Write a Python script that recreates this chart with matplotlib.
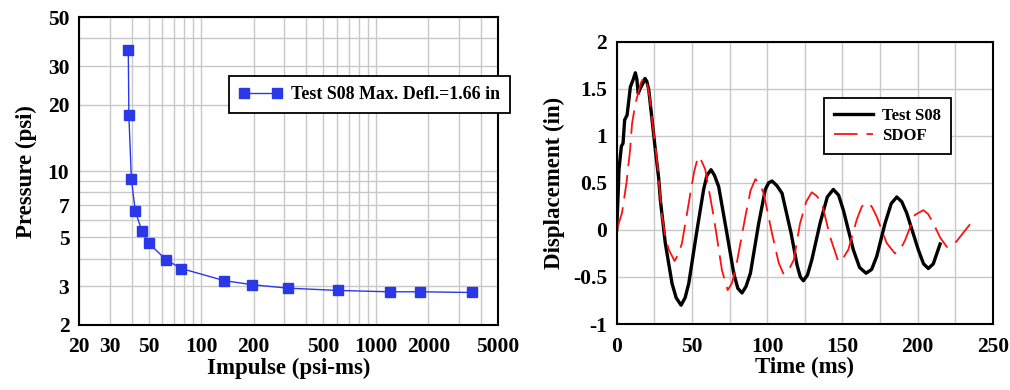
import matplotlib
matplotlib.use("Agg")
import matplotlib.pyplot as plt
from matplotlib.ticker import FixedLocator, FixedFormatter, NullLocator

# ---------------- data ----------------
impulse = [38.3, 38.6, 39.9, 42.0, 45.7, 50.3, 63.2, 77.0, 135.8, 194.6, 312.8, 607, 1200, 1789, 3550]
pressure = [35.6, 17.9, 9.2, 6.59, 5.37, 4.69, 3.95, 3.61, 3.18, 3.05, 2.94, 2.87, 2.83, 2.83, 2.81]

test_t = [0.0, 1.0, 1.5, 3.1, 4.2, 5.3, 6.9, 9.1, 11.0, 12.4, 13.4, 14.3, 15.5, 17.2, 18.8, 20.0,
          21.3, 23.5, 25.7, 27.9, 29.0, 32.3, 36.8, 39.5, 42.8, 45.5, 47.9, 50.5, 53.4, 57.8,
          60.0, 62.7, 65.0, 67.8, 73.3, 77.8, 80.5, 83.3, 86.0, 88.9, 94.4, 98.8, 101.0, 103.3,
          106.5, 109.9, 116.0, 120.0, 122.1, 124.1, 126.8, 129.7, 135.2, 140.0, 144.0, 147.5,
          150.7, 157.3, 161.5, 165.8, 169.5, 172.9, 178.4, 182.5, 186.2, 189.5, 192.8, 200.5,
          204.0, 207.2, 210.5, 215.0]
test_d = [0.00, 0.40, 0.64, 0.89, 0.92, 1.17, 1.22, 1.52, 1.60, 1.67, 1.60, 1.45, 1.50, 1.55, 1.61, 1.58,
          1.49, 1.17, 0.85, 0.55, 0.32, -0.14, -0.57, -0.72, -0.80, -0.72, -0.57, -0.30, 0.00, 0.43,
          0.58, 0.64, 0.58, 0.46, -0.04, -0.46, -0.62, -0.67, -0.60, -0.46, 0.07, 0.43, 0.50, 0.52,
          0.47, 0.39, -0.04, -0.38, -0.50, -0.54, -0.48, -0.32, 0.07, 0.35, 0.43, 0.37,
          0.21, -0.21, -0.40, -0.46, -0.42, -0.28, 0.07, 0.28, 0.35, 0.30, 0.18, -0.21,
          -0.36, -0.41, -0.36, -0.15]

sdof_t = [0.0, 3.5, 6.5, 8.9, 10.2, 12.3, 14.2, 16.0, 17.9, 20.2, 22.0, 23.5, 26.8, 30.1, 32.5, 34.6,
          38.5, 41.0, 43.4, 49.0, 51.5, 54.1, 56.5, 58.9, 64.5, 70.0, 73.8, 76.5, 78.9, 85.5, 89.0,
          92.2, 95.0, 97.7, 103.3, 107.7, 111.0, 114.5, 117.7, 121.9, 126.0, 129.7, 133.0, 136.3,
          141.8, 147.4, 150.5, 154.0, 159.6, 163.0, 166.6, 169.5, 172.9, 179.5, 185.0, 188.5,
          191.7, 198.3, 203.9, 207.0, 210.5, 215.0, 219.4, 222.5, 226.0, 234.9]
sdof_d = [0.00, 0.18, 0.50, 0.85, 1.13, 1.33, 1.45, 1.56, 1.62, 1.56, 1.40, 1.17, 0.74, 0.14, -0.08, -0.21,
          -0.33, -0.26, -0.14, 0.39, 0.62, 0.78, 0.73, 0.64, 0.14, -0.43, -0.64, -0.57, -0.43, 0.14, 0.42,
          0.54, 0.49, 0.39, -0.04, -0.35, -0.47, -0.42, -0.32, 0.07, 0.30, 0.40, 0.36, 0.29,
          -0.07, -0.34, -0.30, -0.21, 0.11, 0.25, 0.29, 0.25, 0.14, -0.14, -0.25, -0.21,
          -0.11, 0.16, 0.21, 0.17, 0.07, -0.08, -0.18, -0.17, -0.12, 0.06]

x_grid_left = [20, 30, 40, 50, 60, 70, 80, 90, 100, 200, 300, 400, 500, 600, 700, 800, 900,
               1000, 2000, 3000, 4000, 5000]
x_labels_left = ["20", "30", "", "50", "", "", "", "", "100", "200", "", "", "500", "", "", "", "",
                 "1000", "2000", "", "", "5000"]
y_grid_left = [2, 3, 4, 5, 6, 7, 8, 9, 10, 20, 30, 40, 50]
y_labels_left = ["2", "3", "", "5", "", "7", "", "", "10", "20", "30", "", "50"]

x_grid_right = [0, 25, 50, 75, 100, 125, 150, 175, 200, 225, 250]
x_labels_right = ["0", "", "50", "", "100", "", "150", "", "200", "", "250"]
y_grid_right = [-1, -0.5, 0, 0.5, 1, 1.5, 2]
y_labels_right = ["-1", "-0.5", "0", "0.5", "1", "1.5", "2"]

# ---------------- style ----------------
plt.rcParams['font.family'] = ['Liberation Serif', 'DejaVu Serif']
plt.rcParams['font.weight'] = 'bold'
FS = 15.5
LFS = 16.5
GRID = '#c8c8c8'
BLUE = '#2b38e8'

fig = plt.figure(figsize=(10.1, 3.9), dpi=100)
axL = fig.add_axes([0.0782, 0.1667, 0.4148, 0.7893])
axR = fig.add_axes([0.6106, 0.1692, 0.3723, 0.7238])

# ---- left ----
axL.set_xscale('log')
axL.set_yscale('log')
axL.set_xlim(20, 5000)
axL.set_ylim(2, 50)
axL.xaxis.set_major_locator(FixedLocator(x_grid_left))
axL.xaxis.set_major_formatter(FixedFormatter(x_labels_left))
axL.xaxis.set_minor_locator(NullLocator())
axL.yaxis.set_major_locator(FixedLocator(y_grid_left))
axL.yaxis.set_major_formatter(FixedFormatter(y_labels_left))
axL.yaxis.set_minor_locator(NullLocator())
axL.grid(True, color=GRID, linewidth=1.0)
axL.set_axisbelow(True)
axL.plot(impulse, pressure, color=BLUE, linewidth=1.0, marker='s', markersize=7.5,
         markerfacecolor=BLUE, markeredgecolor=BLUE, label='Test S08 Max. Defl.=1.66 in')
axL.tick_params(length=0, labelsize=FS, pad=9)
axL.tick_params(axis='y', pad=7)
axL.set_xlabel('Impulse (psi-ms)', fontsize=LFS, fontweight='bold', labelpad=0)
axL.set_ylabel('Pressure (psi)', fontsize=LFS, fontweight='bold', labelpad=8)
legL = axL.legend(loc='upper left', bbox_to_anchor=(229 / 1010, 1 - 76 / 390),
                  bbox_transform=fig.transFigure, numpoints=2, fontsize=12.9,
                  frameon=True, fancybox=False, edgecolor='black', framealpha=1,
                  borderpad=0.55, handlelength=2.45, handletextpad=0.45, borderaxespad=0)
legL.get_frame().set_linewidth(1.3)

# ---- right ----
axR.set_xlim(0, 250)
axR.set_ylim(-1, 2)
axR.xaxis.set_major_locator(FixedLocator(x_grid_right))
axR.xaxis.set_major_formatter(FixedFormatter(x_labels_right))
axR.yaxis.set_major_locator(FixedLocator(y_grid_right))
axR.yaxis.set_major_formatter(FixedFormatter(y_labels_right))
axR.grid(True, color=GRID, linewidth=1.0)
axR.set_axisbelow(True)
axR.plot(test_t, test_d, color='black', linewidth=2.4, label='Test S08',
         solid_joinstyle='round')
axR.plot(sdof_t, sdof_d, color='#ff1010', linewidth=1.3, dashes=(13, 5), label='SDOF')
axR.tick_params(length=0, labelsize=FS, pad=9)
axR.tick_params(axis='y', pad=7)
axR.set_xlabel('Time (ms)', fontsize=LFS, fontweight='bold', labelpad=0)
axR.set_ylabel('Displacement (in)', fontsize=LFS, fontweight='bold', labelpad=6)
legR = axR.legend(loc='upper left', bbox_to_anchor=(824 / 1010, 1 - 98 / 390),
                  bbox_transform=fig.transFigure, fontsize=12,
                  frameon=True, fancybox=False, edgecolor='black', framealpha=1,
                  borderpad=0.6, handlelength=2.35, handletextpad=0.55, borderaxespad=0,
                  labelspacing=0.25)
legR.get_frame().set_linewidth(1.3)

for ax in (axL, axR):
    for s in ax.spines.values():
        s.set_linewidth(1.5)
        s.set_color('black')

fig.savefig('out.png', dpi=100)
